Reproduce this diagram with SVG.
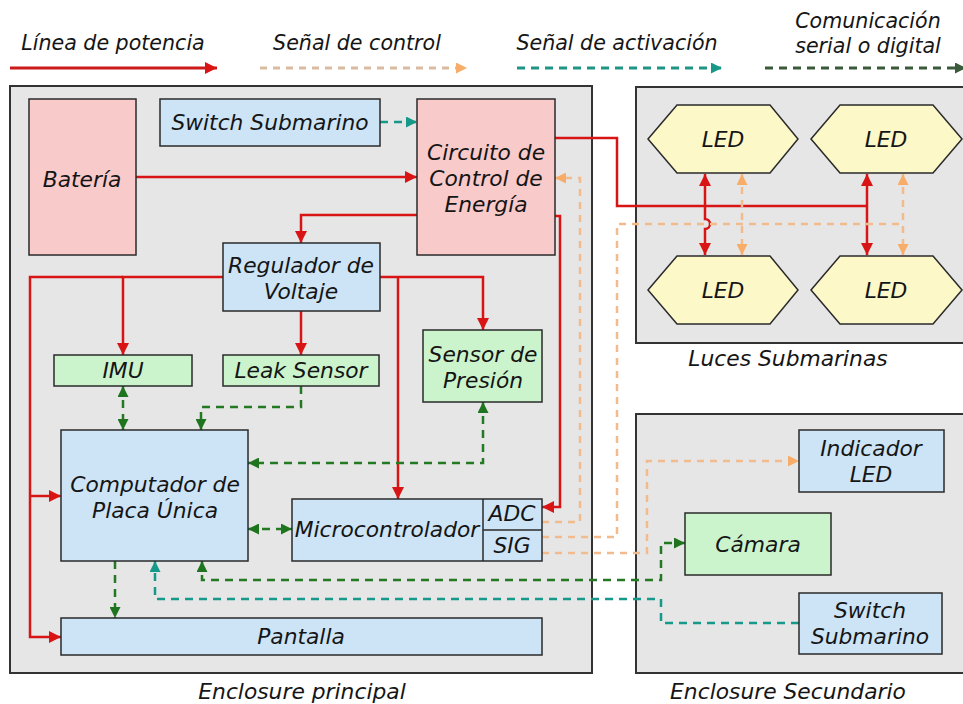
<svg xmlns="http://www.w3.org/2000/svg" width="963" height="704" viewBox="0 0 963 704">
  <style>
    text { font-family: "DejaVu Sans", Verdana, sans-serif; font-style: italic; font-size: 21.8px; fill: #151515; text-anchor: middle; }
    .lg { font-size: 20.6px; }
    .encl { fill: #e6e6e6; stroke: #333; stroke-width: 2; }
    .pink { fill: #f9caca; stroke: #2a2a2a; stroke-width: 1.5; }
    .blue { fill: #cde4f7; stroke: #2a2a2a; stroke-width: 1.5; }
    .green { fill: #ccf4cc; stroke: #2a2a2a; stroke-width: 1.5; }
    .led { fill: #fcf8c8; stroke: #2a2a2a; stroke-width: 1.5; }
    .pwr { fill: none; stroke: #d81414; stroke-width: 2.5; }
    .ctl { fill: none; stroke: #f2bb8c; stroke-width: 2.5; stroke-dasharray: 7 6; }
    .act { fill: none; stroke: #17998a; stroke-width: 2.5; stroke-dasharray: 8 6; }
    .dig { fill: none; stroke: #237a23; stroke-width: 2.5; stroke-dasharray: 8 6; }
  </style>
  <defs>
    <marker id="aRed" viewBox="0 0 10 10" refX="10" refY="5" markerWidth="13" markerHeight="12" markerUnits="userSpaceOnUse" orient="auto-start-reverse">
      <path d="M0,0 L10,5 L0,10 z" fill="#d81414"/>
    </marker>
    <marker id="aCtl" viewBox="0 0 10 10" refX="10" refY="5" markerWidth="11" markerHeight="11" markerUnits="userSpaceOnUse" orient="auto-start-reverse">
      <path d="M0,0 L10,5 L0,10 z" fill="#f7ad68"/>
    </marker>
    <marker id="aAct" viewBox="0 0 10 10" refX="10" refY="5" markerWidth="12" markerHeight="11" markerUnits="userSpaceOnUse" orient="auto-start-reverse">
      <path d="M0,0 L10,5 L0,10 z" fill="#17998a"/>
    </marker>
    <marker id="aDig" viewBox="0 0 10 10" refX="10" refY="5" markerWidth="11" markerHeight="11" markerUnits="userSpaceOnUse" orient="auto-start-reverse">
      <path d="M0,0 L10,5 L0,10 z" fill="#1f751f"/>
    </marker>
    <marker id="aDigLg" viewBox="0 0 10 10" refX="10" refY="5" markerWidth="11" markerHeight="11" markerUnits="userSpaceOnUse" orient="auto">
      <path d="M0,0 L10,5 L0,10 z" fill="#3b5a3b"/>
    </marker>
  </defs>

  <rect width="963" height="704" fill="#ffffff"/>

  <!-- legend -->
  <g id="legend">
    <text class="lg" x="113" y="50">Línea de potencia</text>
    <path d="M10,68 H217" stroke="#cc1a1a" stroke-width="3" fill="none" marker-end="url(#aRed)"/>
    <text class="lg" x="357" y="50">Señal de control</text>
    <path d="M260,68 H467" stroke="#d9bca0" stroke-width="3" stroke-dasharray="7 6" fill="none" marker-end="url(#aCtl)"/>
    <text class="lg" x="617" y="50">Señal de activación</text>
    <path d="M517,68 H722" stroke="#1f9583" stroke-width="3" stroke-dasharray="8 6" fill="none" marker-end="url(#aAct)"/>
    <text class="lg" x="868" y="28">Comunicación</text>
    <text class="lg" x="868" y="53">serial o digital</text>
    <path d="M765,68 H966" stroke="#3b5a3b" stroke-width="3" stroke-dasharray="8 6" fill="none" marker-end="url(#aDigLg)"/>
  </g>

  <!-- enclosures -->
  <g id="enclosure-principal">
    <rect class="encl" x="10" y="86" width="582" height="587"/>
    <text x="302" y="699">Enclosure principal</text>
  </g>
  <g id="luces-submarinas">
    <rect class="encl" x="636" y="87" width="330" height="256"/>
    <text x="788" y="366">Luces Submarinas</text>
  </g>
  <g id="enclosure-secundario">
    <rect class="encl" x="636" y="414" width="330" height="259"/>
    <text x="788" y="699">Enclosure Secundario</text>
  </g>

  <!-- connectors -->
  <g id="connectors">
    <!-- power -->
    <path class="pwr" d="M136,177 H417" marker-end="url(#aRed)"/>
    <path class="pwr" d="M417,215 H301 V243" marker-end="url(#aRed)"/>
    <path class="pwr" d="M223,277 H123 V355" marker-end="url(#aRed)"/>
    <path class="pwr" d="M123,277 H30 V637 H61" marker-end="url(#aRed)"/>
    <path class="pwr" d="M30,496 H61" marker-end="url(#aRed)"/>
    <path class="pwr" d="M301,311 V355" marker-end="url(#aRed)"/>
    <path class="pwr" d="M380,277 H483 V330" marker-end="url(#aRed)"/>
    <path class="pwr" d="M398,277 V499" marker-end="url(#aRed)"/>
    <path class="pwr" d="M555,216 H560 V507 H542" marker-end="url(#aRed)"/>
    <path class="pwr" d="M555,138 H617 V206 H867"/>
    <path class="pwr" d="M705,174 V219 A5,5 0 0 1 705,229 V255" marker-start="url(#aRed)" marker-end="url(#aRed)"/>
    <path class="pwr" d="M867,174 V255" marker-start="url(#aRed)" marker-end="url(#aRed)"/>

    <!-- control -->
    <path class="ctl" d="M542,522 H580 V178 H555" marker-end="url(#aCtl)"/>
    <path class="ctl" d="M542,537 H617 V224 H903"/>
    <path class="ctl" d="M742,174 V255" marker-start="url(#aCtl)" marker-end="url(#aCtl)"/>
    <path class="ctl" d="M903,174 V255" marker-start="url(#aCtl)" marker-end="url(#aCtl)"/>
    <path class="ctl" d="M542,553 H647 V461 H799" marker-end="url(#aCtl)"/>

    <!-- serial / digital -->
    <path class="dig" d="M123,386 V430" marker-start="url(#aDig)" marker-end="url(#aDig)"/>
    <path class="dig" d="M301,386 V407 H201 V430" marker-end="url(#aDig)"/>
    <path class="dig" d="M483,402 V463 H248" marker-start="url(#aDig)" marker-end="url(#aDig)"/>
    <path class="dig" d="M248,529 H292" marker-start="url(#aDig)" marker-end="url(#aDig)"/>
    <path class="dig" d="M115,561 V618" marker-end="url(#aDig)"/>
    <path class="dig" d="M202,561 V580 H661 V543 H685" marker-start="url(#aDig)" marker-end="url(#aDig)"/>

    <!-- activation -->
    <path class="act" d="M380,122 H417" marker-end="url(#aAct)"/>
    <path class="act" d="M799,623 H661 V599 H155 V561" marker-end="url(#aAct)"/>
  </g>

  <!-- nodes: main enclosure -->
  <g id="bateria">
    <rect class="pink" x="29" y="99" width="107" height="156"/>
    <text x="82" y="187">Batería</text>
  </g>
  <g id="switch-submarino-principal">
    <rect class="blue" x="160" y="99" width="220" height="47"/>
    <text x="270" y="130">Switch Submarino</text>
  </g>
  <g id="circuito-control-energia">
    <rect class="pink" x="417" y="99" width="138" height="156"/>
    <text x="486" y="160">Circuito de</text>
    <text x="486" y="186">Control de</text>
    <text x="486" y="212">Energía</text>
  </g>
  <g id="regulador-voltaje">
    <rect class="blue" x="223" y="243" width="157" height="68"/>
    <text x="301" y="273">Regulador de</text>
    <text x="301" y="299">Voltaje</text>
  </g>
  <g id="imu">
    <rect class="green" x="54" y="355" width="138" height="31"/>
    <text x="123" y="378">IMU</text>
  </g>
  <g id="leak-sensor">
    <rect class="green" x="223" y="355" width="156" height="31"/>
    <text x="301" y="378">Leak Sensor</text>
  </g>
  <g id="sensor-presion">
    <rect class="green" x="423" y="330" width="119" height="72"/>
    <text x="483" y="362">Sensor de</text>
    <text x="483" y="388">Presión</text>
  </g>
  <g id="computador-placa-unica">
    <rect class="blue" x="61" y="430" width="187" height="131"/>
    <text x="155" y="492">Computador de</text>
    <text x="155" y="518">Placa Única</text>
  </g>
  <g id="microcontrolador">
    <rect class="blue" x="292" y="499" width="250" height="62"/>
    <line x1="483" y1="499" x2="483" y2="561" stroke="#2a2a2a" stroke-width="1.5"/>
    <line x1="483" y1="530" x2="542" y2="530" stroke="#2a2a2a" stroke-width="1.5"/>
    <text x="387" y="537">Microcontrolador</text>
    <text x="512" y="521">ADC</text>
    <text x="512" y="553">SIG</text>
  </g>
  <g id="pantalla">
    <rect class="blue" x="61" y="618" width="481" height="37"/>
    <text x="301" y="644">Pantalla</text>
  </g>

  <!-- nodes: lights -->
  <g id="led-1">
    <polygon class="led" points="648,139 677,105 770,105 798,139 770,173 677,173"/>
    <text x="723" y="147">LED</text>
  </g>
  <g id="led-2">
    <polygon class="led" points="811,139 840,105 933,105 962,139 933,173 840,173"/>
    <text x="886" y="147">LED</text>
  </g>
  <g id="led-3">
    <polygon class="led" points="648,290 677,256 770,256 798,290 770,324 677,324"/>
    <text x="723" y="298">LED</text>
  </g>
  <g id="led-4">
    <polygon class="led" points="811,290 840,256 933,256 962,290 933,324 840,324"/>
    <text x="886" y="298">LED</text>
  </g>

  <!-- nodes: secondary enclosure -->
  <g id="indicador-led">
    <rect class="blue" x="799" y="430" width="145" height="62"/>
    <text x="871" y="456">Indicador</text>
    <text x="871" y="482">LED</text>
  </g>
  <g id="camara">
    <rect class="green" x="685" y="513" width="146" height="62"/>
    <text x="758" y="552">Cámara</text>
  </g>
  <g id="switch-submarino-secundario">
    <rect class="blue" x="799" y="593" width="143" height="61"/>
    <text x="870" y="618">Switch</text>
    <text x="870" y="644">Submarino</text>
  </g>
</svg>
